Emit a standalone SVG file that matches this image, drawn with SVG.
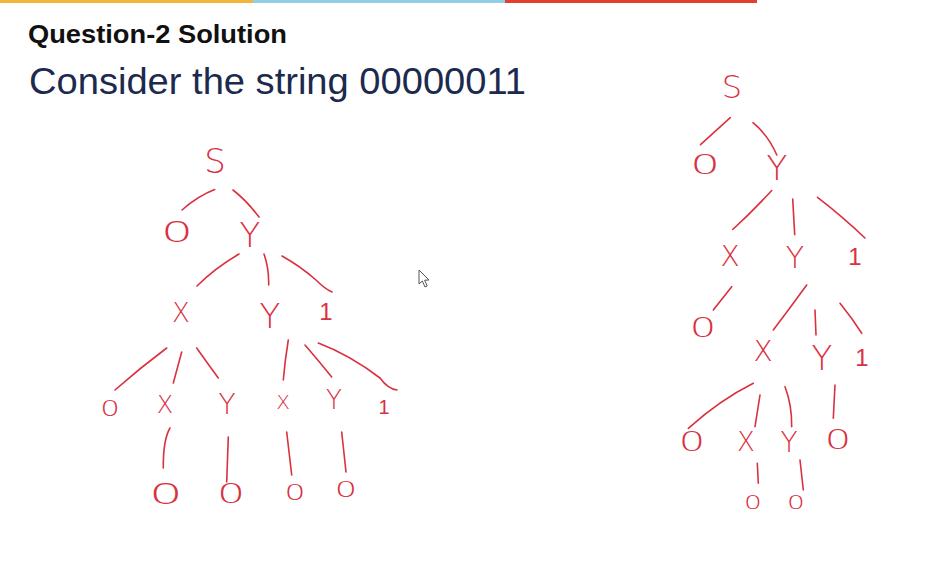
<svg xmlns="http://www.w3.org/2000/svg" width="946" height="565" viewBox="0 0 946 565">
  <style>
    .title { font-family: "Liberation Sans", Arial, sans-serif; font-weight: bold; fill: #111111; }
    .sub { font-family: "Liberation Sans", Arial, sans-serif; fill: #1b2a4e; }
    .ink { font-family: "DejaVu Sans", "Open Sans", sans-serif; font-weight: 200; fill: #d9313f; text-anchor: middle; dominant-baseline: central; }
    .one { font-family: "Liberation Sans", Arial, sans-serif; font-weight: normal; }
    .edge { fill: none; stroke: #d9313f; stroke-width: 1.6; stroke-linecap: round; stroke-linejoin: round; }
  </style>

  <rect width="946" height="565" fill="#ffffff"/>

  <!-- accent bar along the top -->
  <g id="accent-bar">
    <rect x="0" y="0" width="253" height="3" fill="#f2b53a"/>
    <rect x="253" y="0" width="252" height="3" fill="#8fcfe8"/>
    <rect x="505" y="0" width="252" height="3" fill="#e04030"/>
  </g>

  <g id="heading">
    <text class="title" x="28" y="43" font-size="26" textLength="259" lengthAdjust="spacingAndGlyphs">Question-2 Solution</text>
    <text class="sub" x="29" y="94" font-size="36" textLength="497" lengthAdjust="spacingAndGlyphs">Consider the string 00000011</text>
  </g>

  <!-- connectors of both parse trees -->
  <g id="connectors">
    <!-- left tree -->
    <path class="edge" d="M214.7,189.6 Q198,196 182,210"/>
    <path class="edge" d="M233,190 Q247,201 259,217"/>
    <path class="edge" d="M239,254 Q215,268 197,286"/>
    <path class="edge" d="M264,254 Q269,268 268.7,285"/>
    <path class="edge" d="M282,256 Q300,266 316,280 Q325,289 332,292"/>
    <path class="edge" d="M166.7,348 Q140,368 115,390"/>
    <path class="edge" d="M181.7,352 L173.3,383"/>
    <path class="edge" d="M196.7,348 Q208,364 218.3,378"/>
    <path class="edge" d="M288.3,340 Q285,360 283.3,380"/>
    <path class="edge" d="M305,345 Q318,360 331.7,377"/>
    <path class="edge" d="M318.3,343 Q350,355 380,378 Q388,389 397,390"/>
    <path class="edge" d="M170,428 Q163,440 163.3,468"/>
    <path class="edge" d="M228.3,437 L226.7,482"/>
    <path class="edge" d="M286.7,432 L291.7,475"/>
    <path class="edge" d="M341.7,432 L346,472"/>
    <!-- right tree -->
    <path class="edge" d="M730.3,117.6 L700.5,144.7"/>
    <path class="edge" d="M753,122.7 Q768,135 776.8,155"/>
    <path class="edge" d="M771.7,190.5 Q752,212 732.7,229.5"/>
    <path class="edge" d="M792.7,199 L794.7,234.6"/>
    <path class="edge" d="M817.5,197.3 Q842,216 865,238"/>
    <path class="edge" d="M731.7,286.7 L713.3,310"/>
    <path class="edge" d="M806.7,285 Q790,308 773.3,330"/>
    <path class="edge" d="M815,310 L816,335"/>
    <path class="edge" d="M840,303.3 Q852,318 861.7,333.3"/>
    <path class="edge" d="M753.3,383.3 Q720,400 688.3,428.3"/>
    <path class="edge" d="M760,395 L755,426.7"/>
    <path class="edge" d="M785,386.7 Q792,405 791.7,426.7"/>
    <path class="edge" d="M835,385 L833.3,418.3"/>
    <path class="edge" d="M757.3,463.3 L758.3,483.3"/>
    <path class="edge" d="M800,460 L803.3,490"/>
  </g>

  <!-- left parse tree nodes -->
  <g id="L_S"><text class="ink" x="215" y="161" font-size="34">S</text></g>
  <g id="L_0a" transform="translate(177,232) scale(1.8,1)"><text class="ink" font-size="28">0</text></g>
  <g id="L_Ya"><text class="ink" x="250" y="235" font-size="34">Y</text></g>
  <g id="L_X1"><text class="ink" x="181" y="313" font-size="26">X</text></g>
  <g id="L_Y1"><text class="ink" x="270" y="316" font-size="34">Y</text></g>
  <g id="L_1a"><text class="ink one" x="326" y="311" font-size="24">1</text></g>
  <g id="L_0b" transform="translate(110,408) scale(1.4,1)"><text class="ink" font-size="22">0</text></g>
  <g id="L_X2"><text class="ink" x="165" y="405" font-size="24">X</text></g>
  <g id="L_Y2"><text class="ink" x="227" y="404" font-size="28">Y</text></g>
  <g id="L_X3"><text class="ink" x="283" y="402" font-size="20">X</text></g>
  <g id="L_Y3"><text class="ink" x="334" y="400" font-size="26">Y</text></g>
  <g id="L_1b"><text class="ink one" x="384" y="407" font-size="20">1</text></g>
  <g id="L_0c" transform="translate(166,494) scale(1.9,1)"><text class="ink" font-size="28">0</text></g>
  <g id="L_0d" transform="translate(231,494) scale(1.7,1)"><text class="ink" font-size="26">0</text></g>
  <g id="L_0e" transform="translate(295,493) scale(1.5,1)"><text class="ink" font-size="22">0</text></g>
  <g id="L_0f" transform="translate(346,490) scale(1.6,1)"><text class="ink" font-size="22">0</text></g>

  <!-- right parse tree nodes -->
  <g id="R_S"><text class="ink" x="732" y="87" font-size="32">S</text></g>
  <g id="R_0a" transform="translate(705,165) scale(1.8,1)"><text class="ink" font-size="26">0</text></g>
  <g id="R_Ya"><text class="ink" x="777" y="168" font-size="34">Y</text></g>
  <g id="R_X1"><text class="ink" x="730" y="256" font-size="28">X</text></g>
  <g id="R_Y1"><text class="ink" x="795" y="257" font-size="30">Y</text></g>
  <g id="R_1a"><text class="ink one" x="855" y="256" font-size="24">1</text></g>
  <g id="R_0b" transform="translate(703,328) scale(1.6,1)"><text class="ink" font-size="26">0</text></g>
  <g id="R_X2"><text class="ink" x="763" y="351" font-size="28">X</text></g>
  <g id="R_Y2"><text class="ink" x="822" y="358" font-size="34">Y</text></g>
  <g id="R_1b"><text class="ink one" x="862" y="357" font-size="24">1</text></g>
  <g id="R_0c" transform="translate(692,442) scale(1.6,1)"><text class="ink" font-size="26">0</text></g>
  <g id="R_X3"><text class="ink" x="746" y="442" font-size="26">X</text></g>
  <g id="R_Y3"><text class="ink" x="789" y="442" font-size="28">Y</text></g>
  <g id="R_0d" transform="translate(838,440) scale(1.6,1)"><text class="ink" font-size="26">0</text></g>
  <g id="R_0e" transform="translate(753,502) scale(1.4,1)"><text class="ink" font-size="20">0</text></g>
  <g id="R_0f" transform="translate(796,502) scale(1.4,1)"><text class="ink" font-size="20">0</text></g>

  <!-- mouse pointer -->
  <g id="pointer">
    <path d="M419,270 L419,284 L422.3,281 L425,287 L427.2,286 L424.6,280.2 L429,280 Z" fill="#ffffff" stroke="#555555" stroke-width="1" stroke-linejoin="round"/>
  </g>
</svg>
